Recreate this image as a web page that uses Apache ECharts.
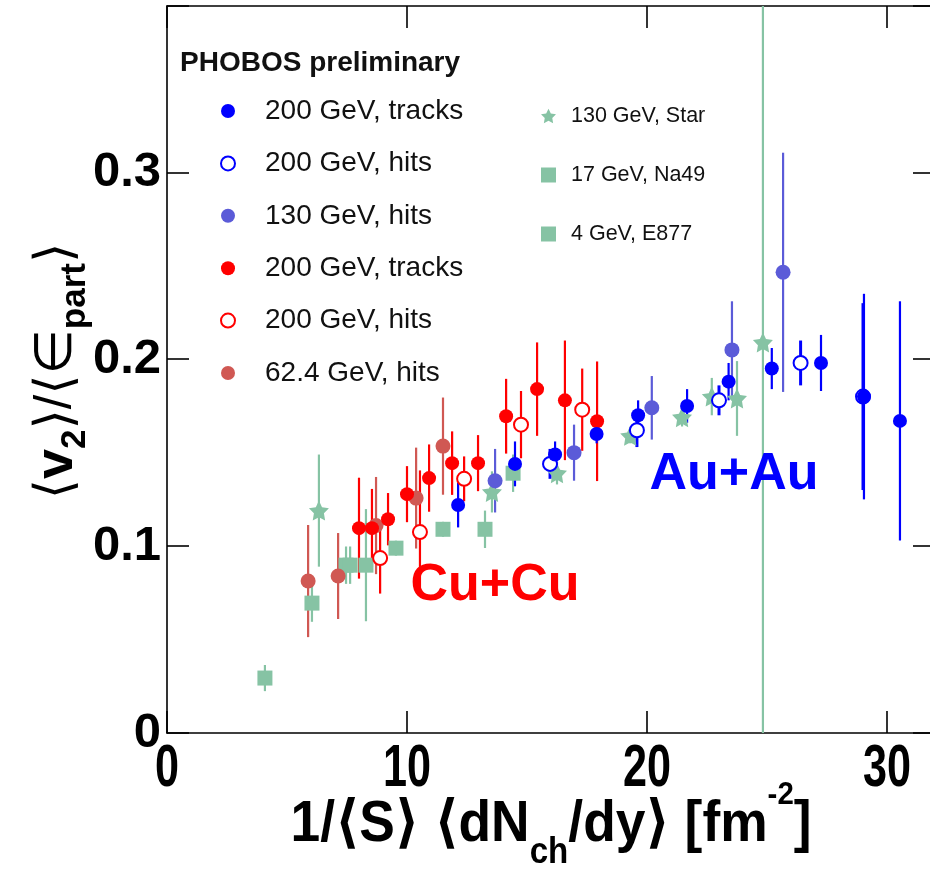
<!DOCTYPE html>
<html>
<head>
<meta charset="utf-8">
<script src="https://cdn.jsdelivr.net/npm/echarts@6/dist/echarts.min.js"></script>
<style>
html,body{margin:0;padding:0;background:#fff;overflow:hidden;width:930px;height:879px;}
#chart{width:935px;height:879px;}
</style>
</head>
<body>
<div id="chart"></div>
<script>
// ---- data (x = 1/<S> <dNch/dy> [fm^-2], y = <v2>/<eps_part>, err = half error bar) ----
const auTracksX   = [12.13, 14.5, 16.17, 17.9, 19.63, 21.67, 23.4, 25.2, 27.25, 29.04, 30.54];
const auTracksY   = [0.122, 0.144, 0.149, 0.160, 0.170, 0.175, 0.188, 0.195, 0.198, 0.180, 0.167];
const auTracksErr = [0.012, 0.012, 0.007, 0.005, 0.008, 0.009, 0.010, 0.011, 0.015, 0.055, 0.064];

const auHitsX   = [15.96, 19.58, 23.0, 26.4, 29.0];
const auHitsY   = [0.144, 0.162, 0.178, 0.198, 0.180];
const auHitsErr = [0.008, 0.009, 0.008, 0.012, 0.050];

const au130X   = [13.67, 16.96, 20.2, 23.54, 25.67];
const au130Y   = [0.135, 0.150, 0.174, 0.205, 0.2465];
const au130Err = [0.017, 0.015, 0.017, 0.026, 0.064];

const cuTracksX   = [8.0, 8.54, 9.21, 10.0, 10.92, 11.88, 12.96, 14.13, 15.42, 16.58, 17.92];
const cuTracksY   = [0.1096, 0.1096, 0.1144, 0.1278, 0.1364, 0.1444, 0.1444, 0.1695, 0.184, 0.178, 0.1668];
const cuTracksErr = [0.027, 0.021, 0.014, 0.015, 0.018, 0.017, 0.015, 0.020, 0.025, 0.032, 0.032];

const cuHitsX   = [8.88, 10.54, 12.38, 14.75, 17.3];
const cuHitsY   = [0.0936, 0.1075, 0.136, 0.165, 0.173];
const cuHitsErr = [0.019, 0.033, 0.012, 0.018, 0.022];

const cu62X   = [5.88, 7.13, 8.71, 10.38, 11.5];
const cu62Y   = [0.0813, 0.084, 0.111, 0.1257, 0.1535];
const cu62Err = [0.030, 0.023, 0.026, 0.027, 0.026];

const starX   = [6.33, 13.54, 16.25, 19.3, 21.46, 22.7, 23.75, 24.83];
const starY   = [0.119, 0.129, 0.139, 0.159, 0.169, 0.180, 0.179, 0.209];
const starErr = [0.030, 0.011, 0.006, 0.004, 0.005, 0.010, 0.020, 0.600];

const na49X   = [6.04, 7.46, 7.63, 8.29, 9.54, 11.5, 13.25, 14.42];
const na49Y   = [0.0695, 0.0898, 0.0898, 0.0898, 0.0989, 0.109, 0.109, 0.139];
const na49Err = [0.010, 0.010, 0.010, 0.030, 0.004, 0.004, 0.010, 0.010];

const e877X   = [4.08];
const e877Y   = [0.0294];
const e877Err = [0.007];

const xTicks = [0, 10, 20, 30];
const yTicks = [0, 0.1, 0.2, 0.3];

// ---- styling ----
const BLUE = '#0000ff', VIOLET = '#5b5bd8', RED = '#ff0000', BROWN = '#d05853', GREEN = '#86c3a4';
const STAR = 'path://M0,-10 L2.94,-4.05 L9.51,-3.09 L4.76,1.55 L5.88,8.09 L0,5 L-5.88,8.09 L-4.76,1.55 L-9.51,-3.09 L-2.94,-4.05 Z';

function zip(xs, ys, es) { return xs.map((x, i) => [x, ys[i], es[i]]); }

function errSeries(xs, ys, es, color, w) {
  return {
    type: 'custom', clip: true, silent: true, z: 2,
    encode: { x: 0, y: 1 },
    data: zip(xs, ys, es),
    renderItem: function (params, api) {
      const x = api.value(0), y = api.value(1), e = api.value(2);
      const p1 = api.coord([x, y - e]), p2 = api.coord([x, y + e]);
      return { type: 'line', shape: { x1: p1[0], y1: p1[1], x2: p2[0], y2: p2[1] },
               style: { stroke: color, lineWidth: w } };
    }
  };
}
function dotSeries(name, xs, ys, es, symbol, size, fill, border) {
  return {
    type: 'scatter', name: name, symbol: symbol, symbolSize: size, z: 3,
    data: zip(xs, ys, es),
    itemStyle: { color: fill, borderColor: border || fill, borderWidth: border ? 2 : 0, opacity: 1 }
  };
}

const N = {
  auT: '200 GeV, tracks', auH: '200 GeV, hits', au130: '130 GeV, hits',
  cuT: '200 GeV, tracks #2', cuH: '200 GeV, hits #2', cu62: '62.4 GeV, hits',
  star: '130 GeV, Star', na49: '17 GeV, Na49', e877: '4 GeV, E877'
};
const strip = n => n.replace(/ #\d$/, '');

const series = [
  errSeries(starX, starY, starErr, GREEN, 2.2),
  dotSeries(N.star, starX, starY, starErr, STAR, 20, GREEN),
  errSeries(na49X, na49Y, na49Err, GREEN, 2.2),
  dotSeries(N.na49, na49X, na49Y, na49Err, 'rect', 15, GREEN),
  errSeries(e877X, e877Y, e877Err, GREEN, 2.2),
  dotSeries(N.e877, e877X, e877Y, e877Err, 'rect', 15, GREEN),
  errSeries(cu62X, cu62Y, cu62Err, BROWN, 2.2),
  dotSeries(N.cu62, cu62X, cu62Y, cu62Err, 'circle', 15, BROWN),
  errSeries(cuTracksX, cuTracksY, cuTracksErr, RED, 2.2),
  dotSeries(N.cuT, cuTracksX, cuTracksY, cuTracksErr, 'circle', 14, RED),
  errSeries(cuHitsX, cuHitsY, cuHitsErr, RED, 2.2),
  dotSeries(N.cuH, cuHitsX, cuHitsY, cuHitsErr, 'circle', 14, '#ffffff', RED),
  errSeries(auHitsX, auHitsY, auHitsErr, BLUE, 3),
  dotSeries(N.auH, auHitsX, auHitsY, auHitsErr, 'circle', 14, '#ffffff', BLUE),
  errSeries(auTracksX, auTracksY, auTracksErr, BLUE, 2.2),
  dotSeries(N.auT, auTracksX, auTracksY, auTracksErr, 'circle', 14, BLUE),
  errSeries(au130X, au130Y, au130Err, VIOLET, 2.2),
  dotSeries(N.au130, au130X, au130Y, au130Err, 'circle', 15, VIOLET)
];

const isTick = (v, list) => list.some(t => Math.abs(t - v) < 1e-9);
const tickStyle = { show: true, inside: true, length: 22, lineStyle: { color: '#000', width: 1.6 } };
const lineStyle = { show: true, onZero: false, lineStyle: { color: '#000', width: 1.6 } };

const baseGraphics = [
  { type: 'text', left: 180, top: 49, z: 10,
    style: { text: 'PHOBOS preliminary', fill: '#111', font: 'bold 28px "Liberation Sans", Arial' } },
  { type: 'text', x: 734, y: 475, z: 10,
    style: { text: 'Au+Au', fill: BLUE, font: 'bold 52px "Liberation Sans", Arial', align: 'center', verticalAlign: 'middle' } },
  { type: 'text', x: 495, y: 586, z: 10,
    style: { text: 'Cu+Cu', fill: RED, font: 'bold 52px "Liberation Sans", Arial', align: 'center', verticalAlign: 'middle' } },
  { type: 'text', x: 551, y: 825, scaleX: 0.92, z: 10,
    style: {
      text: '{n|1/\u27E8S\u27E9 \u27E8dN}{s|ch}{n|/dy\u27E9 [fm}{p|-2}{n|]}',
      align: 'center', verticalAlign: 'middle',
      rich: {
        n: { fontFamily: 'Liberation Sans, DejaVu Sans', fontWeight: 'bold', fontSize: 58, lineHeight: 92, fill: '#000', color: '#000' },
        s: { fontFamily: 'Liberation Sans', fontWeight: 'bold', fontSize: 36, lineHeight: 24, verticalAlign: 'bottom', fill: '#000', color: '#000' },
        p: { fontFamily: 'Liberation Sans', fontWeight: 'bold', fontSize: 32, lineHeight: 56, verticalAlign: 'top', fill: '#000', color: '#000' }
      }
    } },
  { type: 'text', x: 57, y: 371, rotation: Math.PI / 2, z: 10,
    style: {
      text: '{n|\u27E8}{b|v}{s|2}{n|\u27E9/\u27E8\u2208}{s|part}{n|\u27E9}',
      align: 'center', verticalAlign: 'middle',
      rich: {
        n: { fontFamily: 'Liberation Sans, DejaVu Sans', fontWeight: 'normal', fontSize: 52, lineHeight: 72, fill: '#000', color: '#000' },
        b: { fontFamily: 'Liberation Sans', fontWeight: 'bold', fontSize: 54, lineHeight: 72, fill: '#000', color: '#000' },
        s: { fontFamily: 'Liberation Sans', fontWeight: 'bold', fontSize: 35, lineHeight: 34, verticalAlign: 'bottom', fill: '#000', color: '#000' }
      }
    } }
];

const option = {
  animation: false,
  backgroundColor: '#fff',
  grid: { left: 167, right: 0, top: 6, bottom: 146, containLabel: false },
  xAxis: [{
    type: 'value', min: 0, max: 32, interval: 10, position: 'bottom',
    axisLine: lineStyle, axisTick: tickStyle, splitLine: { show: false },
    axisLabel: { show: false }
  }, {
    type: 'value', min: 0, max: 32, interval: 10, position: 'top',
    axisLine: lineStyle, axisTick: tickStyle, splitLine: { show: false }, axisLabel: { show: false }
  }],
  yAxis: [{
    type: 'value', min: 0, max: 0.389, interval: 0.1, position: 'left',
    axisLine: lineStyle, axisTick: tickStyle, splitLine: { show: false },
    axisLabel: { margin: 6, color: '#000', fontFamily: 'Liberation Sans, Arial', fontWeight: 'bold',
      fontSize: 49,
      formatter: v => isTick(v, yTicks) ? (v === 0 ? '0' : v.toFixed(1)) : '' }
  }, {
    type: 'value', min: 0, max: 0.389, interval: 0.1, position: 'right',
    axisLine: lineStyle, axisTick: tickStyle, splitLine: { show: false }, axisLabel: { show: false }
  }],
  legend: [{
    data: [N.auT, N.auH, N.au130, N.cuT, N.cuH, N.cu62],
    orient: 'vertical', left: 215, top: 91, itemWidth: 14, itemHeight: 14, itemGap: 22.4,
    selectedMode: false, formatter: strip,
    textStyle: { fontFamily: 'Liberation Sans, Arial', fontSize: 28, color: '#111', lineHeight: 30, padding: [0, 0, 0, 25] }
  }, {
    data: [N.star, N.na49, N.e877],
    orient: 'vertical', left: 536, top: 100, itemWidth: 15, itemHeight: 15, itemGap: 37,
    selectedMode: false, formatter: strip,
    textStyle: { fontFamily: 'Liberation Sans, Arial', fontSize: 21.5, color: '#111', lineHeight: 22, padding: [0, 0, 0, 10] }
  }],
  graphic: baseGraphics,
  series: series
};

const chart = echarts.init(document.getElementById('chart'), null, { renderer: 'canvas' });
chart.setOption(option);

// x tick labels: condensed bold text placed at the axis' own tick positions
const y0 = chart.convertToPixel({ yAxisIndex: 0 }, 0);
const xLabelGraphics = xTicks.map(v => ({
  type: 'text', x: chart.convertToPixel({ xAxisIndex: 0 }, v), y: y0 + 36, scaleX: 0.72, z: 10,
  style: { text: String(v), font: 'bold 60px "Liberation Sans", Arial', fill: '#000', align: 'center', verticalAlign: 'middle' }
}));
chart.setOption({ graphic: baseGraphics.concat(xLabelGraphics) });
</script>
</body>
</html>
